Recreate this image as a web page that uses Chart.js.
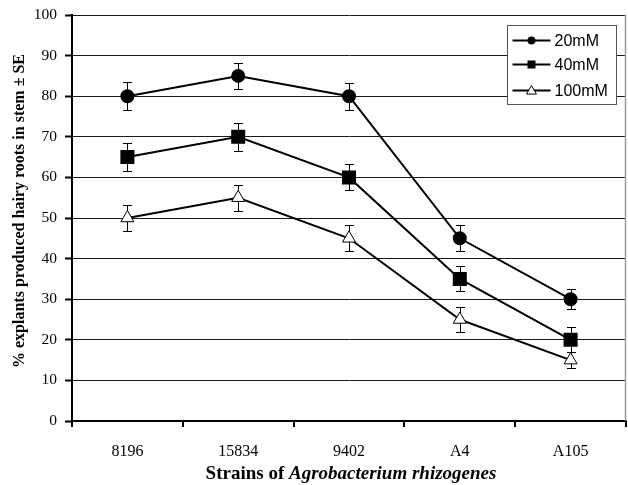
<!DOCTYPE html>
<html>
<head>
<meta charset="utf-8">
<script src="https://cdn.jsdelivr.net/npm/chart.js@4/dist/chart.umd.min.js"></script>
<style>
  html, body { margin: 0; padding: 0; background: #fff; }
  #wrap { width: 628px; height: 485px; position: relative; }
</style>
</head>
<body>
<div id="wrap"><canvas id="c" width="628" height="485"></canvas></div>
<script>
const categories = ['8196', '15834', '9402', 'A4', 'A105'];
const seriesNames = ['20mM', '40mM', '100mM'];
const values20 = [80, 85, 80, 45, 30];
const values40 = [65, 70, 60, 35, 20];
const values100 = [50, 55, 45, 25, 15];
const err20 = [3.5, 3.3, 3.3, 3.2, 2.5];
const err40 = [3.4, 3.4, 3.2, 3.1, 3.1];
const err100 = [3.2, 3.2, 3.2, 3.1, 2.0];
const yTicks = [0, 10, 20, 30, 40, 50, 60, 70, 80, 90, 100];
const yTitle = '% explants produced hairy roots in stem \u00b1 SE';
const xTitleParts = [['Strains of ', 'bold'], ['Agrobacterium rhizogenes', 'italic bold']];

const errors = [err20, err40, err100];
const styles = ['circle', 'rect', 'triangle'];

const errorBars = {
  id: 'errorBars',
  beforeDatasetsDraw(chart) {
    const ctx = chart.ctx, y = chart.scales.y;
    ctx.save();
    ctx.strokeStyle = '#000';
    ctx.lineWidth = 1;
    chart.data.datasets.forEach((ds, di) => {
      const meta = chart.getDatasetMeta(di);
      meta.data.forEach((pt, i) => {
        const v = ds.data[i], e = errors[di][i];
        const yt = Math.round(y.getPixelForValue(v + e)) + 0.5;
        const yb = Math.round(y.getPixelForValue(v - e)) + 0.5;
        const x = Math.round(pt.x) + 0.5;
        ctx.beginPath();
        ctx.moveTo(x, yt); ctx.lineTo(x, yb);
        ctx.moveTo(x - 4.5, yt); ctx.lineTo(x + 4.5, yt);
        ctx.moveTo(x - 4.5, yb); ctx.lineTo(x + 4.5, yb);
        ctx.stroke();
      });
    });
    ctx.restore();
  }
};

function marker(ctx, style, x, y, s) {
  ctx.beginPath();
  if (style === 'circle') {
    ctx.arc(x, y, s, 0, Math.PI * 2);
    ctx.fillStyle = '#000'; ctx.fill();
  } else if (style === 'rect') {
    ctx.rect(x - s, y - s, 2 * s, 2 * s);
    ctx.fillStyle = '#000'; ctx.fill();
  } else {
    ctx.moveTo(x, y - s * 1.1);
    ctx.lineTo(x + s * 1.1, y + s * 0.8);
    ctx.lineTo(x - s * 1.1, y + s * 0.8);
    ctx.closePath();
    ctx.fillStyle = '#fff'; ctx.fill();
    ctx.lineWidth = 1; ctx.strokeStyle = '#000'; ctx.stroke();
  }
}

const decor = {
  id: 'decor',
  afterDraw(chart) {
    const ctx = chart.ctx, a = chart.chartArea, xs = chart.scales.x;
    ctx.save();
    // x tick marks at category boundaries
    ctx.strokeStyle = '#000'; ctx.lineWidth = 2;
    const step = xs.getPixelForValue(1) - xs.getPixelForValue(0);
    ctx.beginPath();
    for (let i = 0; i <= categories.length; i++) {
      const px = Math.round(xs.getPixelForValue(i) - step / 2);
      ctx.moveTo(px, a.bottom); ctx.lineTo(px, a.bottom + 6);
    }
    ctx.stroke();
    // right border
    ctx.strokeStyle = '#9a9a9a';
    ctx.lineWidth = 1.5;
    ctx.beginPath();
    ctx.moveTo(a.right - 0.5, a.top); ctx.lineTo(a.right - 0.5, a.bottom);
    ctx.stroke();
    // legend
    const bx = a.right - 118.5, by = a.top + 10.5, bw = 109, bh = 79;
    ctx.fillStyle = '#fff';
    ctx.fillRect(bx, by, bw, bh);
    ctx.strokeStyle = '#555'; ctx.lineWidth = 1;
    ctx.strokeRect(bx, by, bw, bh);
    const rows = [by + 15, by + 39, by + 65];
    seriesNames.forEach((n, i) => {
      const ry = rows[i];
      ctx.strokeStyle = '#000'; ctx.lineWidth = 2;
      ctx.beginPath(); ctx.moveTo(bx + 5, ry); ctx.lineTo(bx + 43, ry); ctx.stroke();
      marker(ctx, styles[i], bx + 24, ry, i === 2 ? 4.5 : 4);
      ctx.fillStyle = '#000';
      ctx.font = '16px "Liberation Sans", Arial, sans-serif';
      ctx.textBaseline = 'middle'; ctx.textAlign = 'left';
      ctx.fillText(n, bx + 47, ry + 1);
    });
    // y title
    ctx.save();
    ctx.translate(20, 211);
    ctx.rotate(-Math.PI / 2);
    ctx.font = 'bold 16px "Liberation Serif", "Times New Roman", serif';
    ctx.textAlign = 'center'; ctx.textBaseline = 'middle';
    ctx.fillStyle = '#000';
    ctx.fillText(yTitle, 0, 0);
    ctx.restore();
    // x title with mixed styles
    const fonts = xTitleParts.map(p => p[1] + ' 19px "Liberation Serif", "Times New Roman", serif');
    let total = 0;
    const widths = xTitleParts.map((p, i) => { ctx.font = fonts[i]; const w = ctx.measureText(p[0]).width; total += w; return w; });
    let x = (a.left + a.right) / 2 - total / 2 + 2;
    ctx.textBaseline = 'middle'; ctx.textAlign = 'left'; ctx.fillStyle = '#000';
    xTitleParts.forEach((p, i) => { ctx.font = fonts[i]; ctx.fillText(p[0], x, 474); x += widths[i]; });
    ctx.restore();
  }
};

new Chart(document.getElementById('c'), {
  type: 'line',
  data: {
    labels: categories,
    datasets: [
      { label: seriesNames[0], data: values20, pointStyle: 'circle', pointRadius: 6, pointHoverRadius: 6,
        pointBackgroundColor: '#000', pointBorderColor: '#000', borderColor: '#000', borderWidth: 2, tension: 0 },
      { label: seriesNames[1], data: values40, pointStyle: 'rect', pointRadius: 8.5, pointHoverRadius: 8.5,
        pointBackgroundColor: '#000', pointBorderColor: '#000', borderColor: '#000', borderWidth: 2, tension: 0 },
      { label: seriesNames[2], data: values100, pointStyle: 'triangle', pointRadius: 7.5, pointHoverRadius: 7.5,
        pointBackgroundColor: '#fff', pointBorderColor: '#000', pointBorderWidth: 1, borderColor: '#000', borderWidth: 2, tension: 0 }
    ]
  },
  options: {
    responsive: false,
    animation: false,
    events: [],
    layout: { autoPadding: false, padding: { top: 15, right: 2, left: 0, bottom: 0 } },
    plugins: { legend: { display: false }, tooltip: { enabled: false } },
    scales: {
      x: {
        offset: true,
        afterFit(s) { s.height = 64; s.paddingLeft = 0; s.paddingRight = 0; },
        grid: { display: true, drawOnChartArea: false, offset: true, drawTicks: true, tickLength: 21, tickColor: 'rgba(0,0,0,0)', color: 'rgba(0,0,0,0)' },
        border: { display: true, color: '#000', width: 2 },
        ticks: { color: '#000', padding: 0, font: { family: '"Liberation Serif", "Times New Roman", serif', size: 16 } }
      },
      y: {
        min: 0, max: 100,
        afterFit(s) { s.width = 72; s.paddingTop = 0; s.paddingBottom = 0; },
        afterBuildTicks(s) { s.ticks = yTicks.map(v => ({ value: v })); },
        grid: { color: '#1a1a1a', lineWidth: 1, tickLength: 7, tickColor: '#000', tickWidth: 2 },
        border: { display: true, color: '#000', width: 2 },
        ticks: { color: '#000', padding: 8, font: { family: '"Liberation Serif", "Times New Roman", serif', size: 15.5 } }
      }
    }
  },
  plugins: [errorBars, decor]
});
</script>
</body>
</html>
